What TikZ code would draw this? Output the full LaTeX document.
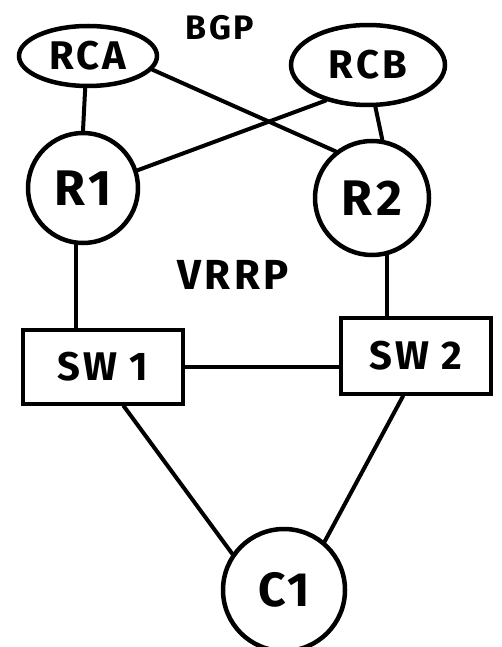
\documentclass[tikz,border=0pt]{standalone}
\usepackage{fontspec}
\newfontfamily\hand{Fira Sans}[LetterSpace=8]
\usetikzlibrary{shapes.geometric}
\begin{document}
\begin{tikzpicture}[x=1pt,y=-1pt,
  ell/.style={draw, ellipse, line width=4.5pt, inner sep=0pt},
  rnode/.style={draw, circle, line width=4.5pt, inner sep=0pt},
  swbox/.style={draw, rectangle, line width=4.5pt, inner sep=0pt},
  link/.style={line width=4pt, line cap=round}]
\useasboundingbox (0,0) rectangle (502,647);
\node[ell, minimum width=138pt, minimum height=60pt, font=\hand\bfseries\fontsize{40}{44}\selectfont] (RCA) at (88,56) {RCA};
\node[ell, minimum width=154pt, minimum height=80pt, font=\hand\bfseries\fontsize{40}{44}\selectfont] (RCB) at (368,65) {RCB};
\node[rnode, minimum size=110pt, font=\hand\bfseries\fontsize{50}{54}\selectfont] (R1) at (83,188) {R1};
\node[rnode, minimum size=114pt, font=\hand\bfseries\fontsize{50}{54}\selectfont] (R2) at (372,198) {R2};
\node[swbox, minimum width=160pt, minimum height=74pt, font=\hand\bfseries\fontsize{40}{44}\selectfont] (SW1) at (103,367) {SW 1};
\node[swbox, minimum width=150pt, minimum height=76pt, font=\hand\bfseries\fontsize{40}{44}\selectfont] (SW2) at (416,356) {SW 2};
\node[rnode, minimum size=122pt, font=\hand\bfseries\fontsize{48}{52}\selectfont] (C1) at (284,590) {C1};
\node[font=\hand\bfseries\fontsize{34}{38}\selectfont] (bgp) at (220,28) {BGP};
\node[font=\hand\bfseries\fontsize{42}{46}\selectfont] (vrrp) at (233,275) {VRRP};
\draw[link] (RCA.-95) -- (R1.90);
\draw[link] (RCA.-12) -- (R2.128);
\draw[link] (RCB.-140) -- (R1.18);
\draw[link] (RCB.-80) -- (R2.80);
\draw[link] (R1.-97) -- (SW1.north -| R1.-97);
\draw[link] (R2.-75) -- (SW2.north -| R2.-75);
\draw[link] (SW1.east) -- (SW1.east -| SW2.west);
\draw[link] (SW1.-62) -- (C1.145);
\draw[link] (SW2.-108) -- (C1.50);
\end{tikzpicture}
\end{document}
